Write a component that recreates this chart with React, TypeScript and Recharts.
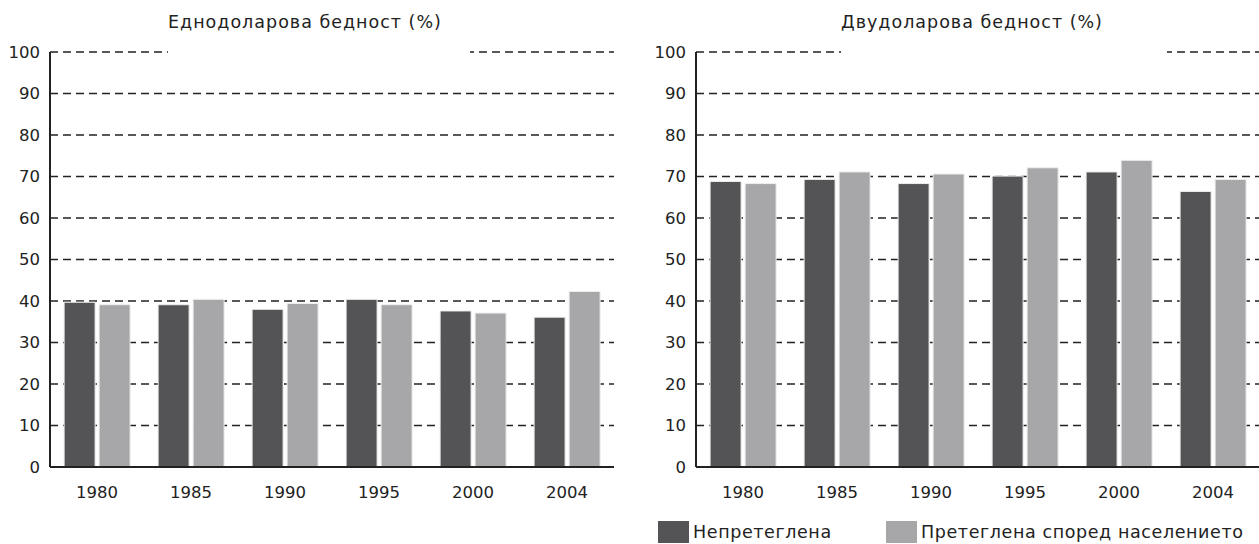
import { BarChart, Bar, XAxis, YAxis, CartesianGrid, Legend } from 'recharts'

const years = ['1980', '1985', '1990', '1995', '2000', '2004']
const oneDollarRaw = [39.7, 39.1, 38.0, 40.4, 37.6, 36.1]
const oneDollarWeighted = [39.1, 40.4, 39.4, 39.1, 37.1, 42.3]
const twoDollarRaw = [68.8, 69.3, 68.3, 70.1, 71.1, 66.4]
const twoDollarWeighted = [68.3, 71.1, 70.6, 72.1, 73.9, 69.3]
const yTicks = [0, 10, 20, 30, 40, 50, 60, 70, 80, 90, 100]

const RAW_NAME = 'Непретеглена'
const WEIGHTED_NAME = 'Претеглена според населението'

const DARK = '#545456'
const LIGHT = '#a7a7a9'
const INK = '#222'
const FONT = '"DejaVu Sans", Verdana, sans-serif'

const buildRows = (raw: number[], weighted: number[]) =>
  years.map((year, i) => ({ year, raw: raw[i], weighted: weighted[i] }))

function LegendContent(props: any) {
  const payload = props.payload || []
  return (
    <div style={{ display: 'flex', alignItems: 'center', fontFamily: FONT, fontSize: 17.5, color: INK }}>
      {payload.map((entry: any, i: number) => (
        <div key={`legend-${i}`} style={{ display: 'flex', alignItems: 'center', width: i === 0 ? 228 : undefined }}>
          <span style={{ display: 'inline-block', width: 31, height: 22, background: entry.color, marginRight: 4 }} />
          <span style={{ letterSpacing: 0.6, whiteSpace: 'nowrap' }}>{entry.value}</span>
        </div>
      ))}
    </div>
  )
}

interface PanelProps {
  title: string
  raw: number[]
  weighted: number[]
  left: number
  titleLeft: number
  titleWidth: number
  showLegend?: boolean
}

function Panel({ title, raw, weighted, left, titleLeft, titleWidth, showLegend }: PanelProps) {
  const data = buildRows(raw, weighted)
  return (
    <div style={{ position: 'absolute', left, top: 0 }}>
      <BarChart
        width={630}
        height={544}
        data={data}
        margin={{ top: 52, right: 16, bottom: 0, left: 0 }}
        barCategoryGap="15%"
        barGap={4}
      >
        <CartesianGrid vertical={false} stroke={INK} strokeDasharray="8 5" strokeWidth={1.5} />
        <XAxis
          dataKey="year"
          height={77}
          axisLine={{ stroke: INK, strokeWidth: 2 }}
          tickLine={false}
          tickMargin={13}
          tick={{ fill: INK, fontSize: 16.5, fontFamily: FONT }}
        />
        <YAxis
          width={50}
          domain={[0, 100]}
          ticks={yTicks}
          interval={0}
          axisLine={{ stroke: INK, strokeWidth: 2 }}
          tickLine={false}
          tickMargin={4}
          tick={{ fill: INK, fontSize: 16.5, fontFamily: FONT }}
        />
        <Bar dataKey="raw" name={RAW_NAME} fill={DARK} stroke="#eeeeee" strokeWidth={1} isAnimationActive={false} />
        <Bar dataKey="weighted" name={WEIGHTED_NAME} fill={LIGHT} stroke="#eeeeee" strokeWidth={1} isAnimationActive={false} />
        {showLegend && (
          <Legend
            verticalAlign="middle"
            layout="horizontal"
            content={LegendContent}
            wrapperStyle={{ left: 12, top: 521, width: 620 }}
          />
        )}
      </BarChart>
      <div
        style={{
          position: 'absolute',
          left: titleLeft - left,
          top: 8,
          width: titleWidth,
          height: 50,
          background: '#fff',
          fontFamily: FONT,
          fontSize: 17.5,
          lineHeight: '28px',
          letterSpacing: 1,
          color: INK,
          whiteSpace: 'nowrap',
        }}
      >
        {title}
      </div>
    </div>
  )
}

export default function App() {
  return (
    <div
      style={{
        position: 'fixed',
        left: 0,
        top: 0,
        width: 1259,
        height: 544,
        overflow: 'hidden',
        background: '#fff',
      }}
    >
      <Panel
        title="Еднодоларова бедност (%)"
        raw={oneDollarRaw}
        weighted={oneDollarWeighted}
        left={0}
        titleLeft={168}
        titleWidth={302}
      />
      <Panel
        title="Двудоларова бедност (%)"
        raw={twoDollarRaw}
        weighted={twoDollarWeighted}
        left={646}
        titleLeft={841}
        titleWidth={326}
        showLegend
      />
    </div>
  )
}
